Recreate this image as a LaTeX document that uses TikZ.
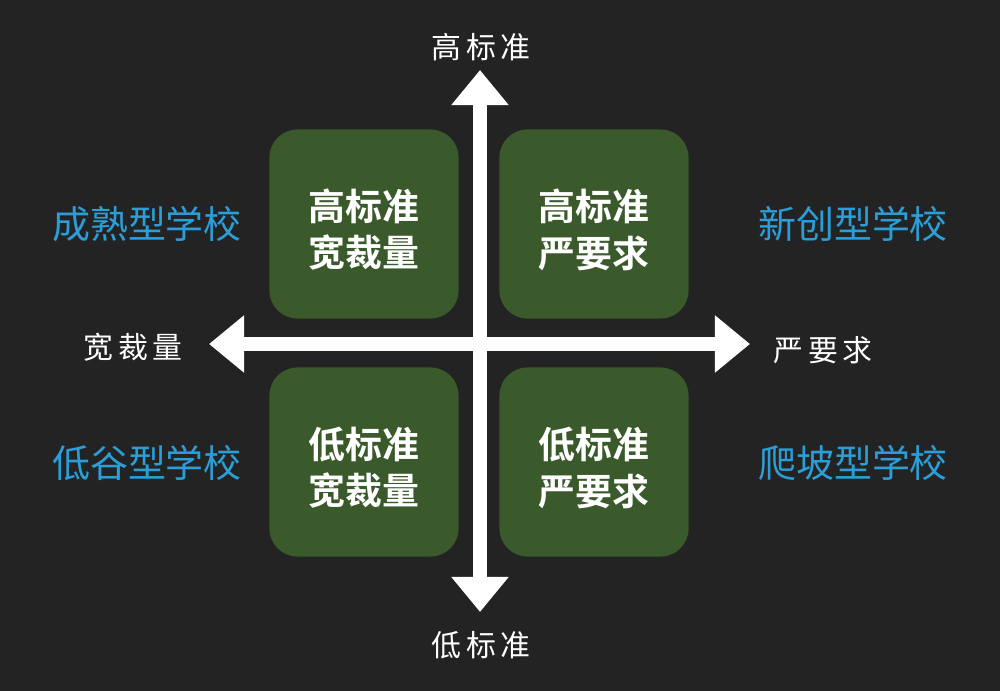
\documentclass[tikz,border=0pt]{standalone}
\usepackage{fontspec}
\usepackage{tikz}
\usetikzlibrary{arrows.meta}
\newfontfamily\cjk{Noto Sans CJK SC}
\newfontfamily\cjkbold{Noto Sans CJK SC Bold}
\definecolor{bgdark}{HTML}{232323}
\definecolor{boxgreen}{HTML}{3A5A2B}
\definecolor{labelblue}{HTML}{2B9ED8}
\tikzset{
    quadrant/.style = {rectangle, rounded corners=0.28cm, minimum width=1.89cm, minimum height=1.89cm, fill=boxgreen, text=white, align=center, font=\cjkbold\fontsize{10.5}{13.2}\selectfont, text height=25.5pt},
    axislabel/.style = {text=white, font=\cjk\fontsize{8.5}{10}\selectfont},
    schoollabel/.style = {text=labelblue, font=\cjk\fontsize{10.8}{12}\selectfont},
    axisarrow/.style = {white, line width=0.14cm, {Triangle[length=0.35cm,width=0.55cm]}-{Triangle[length=0.35cm,width=0.55cm]}}
}

\begin{document}
\begin{tikzpicture}[x=0.01cm, y=-0.01cm]
\fill[bgdark] (0,0) rectangle (1000,691);
\useasboundingbox (0,0) rectangle (1000,691);

\node (hiwide) [quadrant] at (364,224) {高标准\\宽裁量};
\node (histrict) [quadrant] at (594,224) {高标准\\严要求};
\node (lowide) [quadrant] at (364,462) {低标准\\宽裁量};
\node (lostrict) [quadrant] at (594,462) {低标准\\严要求};

\node (high) [axislabel] at (481,47) {高\,标\,准};
\node (low) [axislabel] at (481,645) {低\,标\,准};
\node (wide) [axislabel] at (133,347) {宽\,裁\,量};
\node (strict) [axislabel] at (823,350) {严\,要\,求};

\node (mature) [schoollabel] at (147,224) {成熟型学校};
\node (newborn) [schoollabel] at (853,224) {新创型学校};
\node (valley) [schoollabel] at (147,463) {低谷型学校};
\node (climb) [schoollabel] at (853,463) {爬坡型学校};

\coordinate (vtop) at (480,70);
\coordinate (vbot) at (480,612);
\coordinate (hleft) at (209,344);
\coordinate (hright) at (750,344);
\draw [axisarrow] (vbot) -- (vtop);
\draw [axisarrow] (hleft) -- (hright);
\end{tikzpicture}
\end{document}
